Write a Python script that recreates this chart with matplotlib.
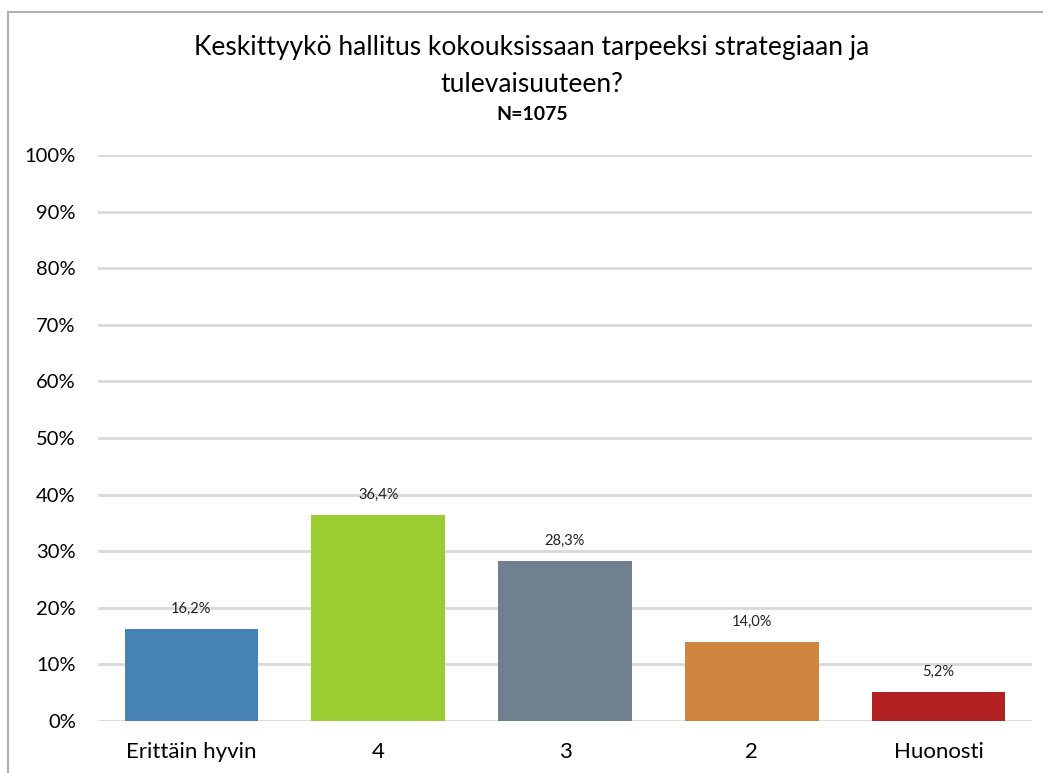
import matplotlib.pyplot as plt
from matplotlib.patches import Rectangle

categories = ['Erittäin hyvin', '4', '3', '2', 'Huonosti']
values = [16.2, 36.4, 28.3, 14.0, 5.2]
colors = ['#4682B4', '#9ACD32', '#708090', '#CD853F', '#B22222']
yticks = [0, 10, 20, 30, 40, 50, 60, 70, 80, 90, 100]

plt.rcParams['font.family'] = ['Lato', 'DejaVu Sans']

fig = plt.figure(figsize=(10.43, 7.73), dpi=100)
# chart frame (cut off at right and bottom)
fig.patches.append(Rectangle((8 / 1043, -0.1), 1.2, (773 - 12) / 773 + 0.1,
                             transform=fig.transFigure, fill=False,
                             edgecolor='#B0B0B0', linewidth=1.5))

ax = fig.add_axes([98 / 1043, 52 / 773, 934 / 1043, 566 / 773])
x = range(len(categories))
bars = ax.bar(x, values, width=0.715, color=colors, zorder=3)

for xi, v in zip(x, values):
    ax.text(xi, v + 2.3, f'{v:.1f}%'.replace('.', ','), ha='center', va='bottom',
            fontsize=10.5, color='#222222')

ax.set_xlim(-0.5, len(categories) - 0.5)
ax.set_ylim(0, 100)
ax.set_yticks(yticks)
ax.set_yticklabels([f'{t}%' for t in yticks], fontsize=14.5)
ax.set_xticks(list(x))
ax.set_xticklabels(categories, fontsize=16)
ax.tick_params(length=0)
ax.tick_params(axis='y', pad=16)
ax.tick_params(axis='x', pad=15)
ax.grid(axis='y', color='#D9D9D9', linewidth=2, zorder=0)
for s in ax.spines.values():
    s.set_visible(False)

fig.text(532 / 1043, 1 - 47 / 773, 'Keskittyykö hallitus kokouksissaan tarpeeksi strategiaan ja',
         ha='center', va='center', fontsize=19)
fig.text(532 / 1043, 1 - 84 / 773, 'tulevaisuuteen?', ha='center', va='center', fontsize=19)
fig.text(532 / 1043, 1 - 114 / 773, 'N=1075', ha='center', va='center', fontsize=14,
         fontweight='bold')

fig.savefig('out.png', dpi=100)
